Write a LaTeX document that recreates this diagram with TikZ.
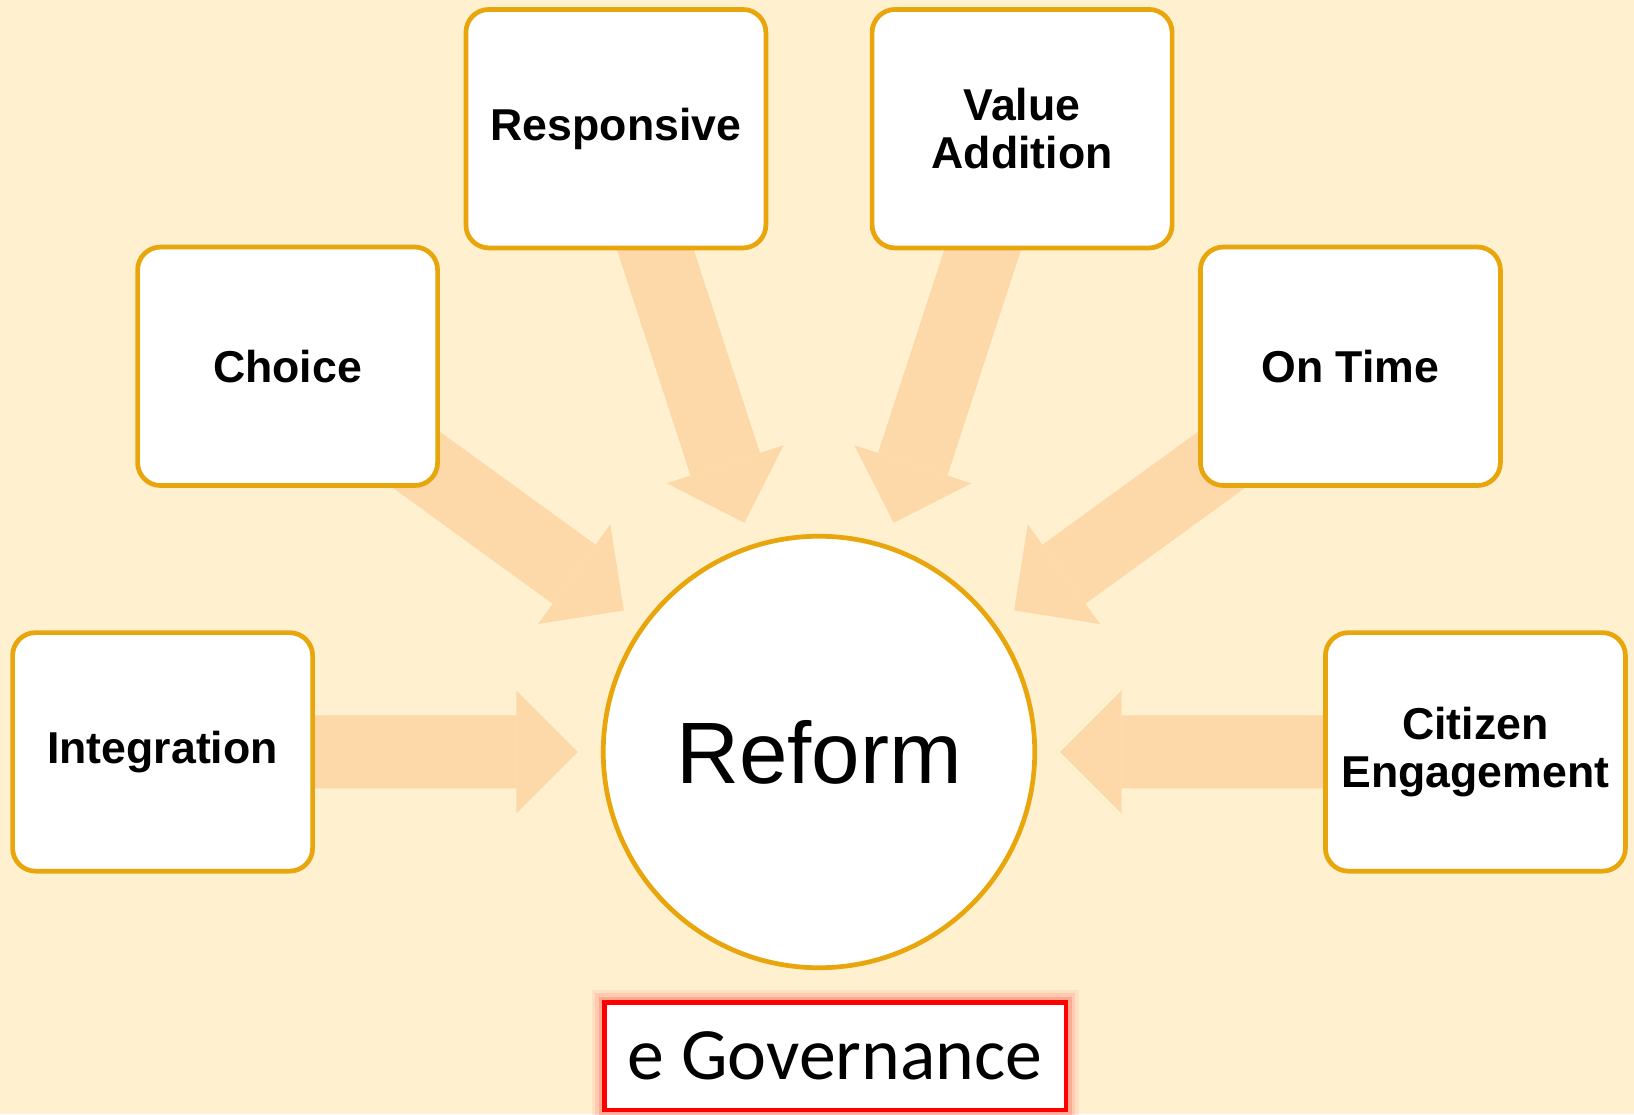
\documentclass[tikz,border=0pt]{standalone}
\usepackage{fontspec}
\setmainfont{Liberation Sans}
\newfontfamily\calibri{Carlito}
\usetikzlibrary{arrows.meta,backgrounds}

\definecolor{cream}{RGB}{255,240,207}
\definecolor{peach}{RGB}{253,216,169}
\definecolor{gold}{RGB}{232,166,12}

\tikzset{
  box/.style={draw=gold, line width=0.047cm, fill=white, rounded corners=0.23cm,
    minimum width=3.0cm, minimum height=2.385cm, align=center, inner sep=0pt,
    font=\fontsize{12.7}{13.7}\selectfont\bfseries},
  hub/.style={draw=gold, line width=0.047cm, fill=white, circle,
    minimum size=4.315cm, inner sep=0pt, font=\fontsize{24.8}{28}\selectfont},
  flow/.style={peach, line width=0.73cm, shorten >=0.23cm,
    -{Triangle[length=0.615cm, width=1.23cm, line width=0pt]}},
  govbox/.style={draw=red, line width=0.045cm, fill=white,
    minimum width=4.613cm, minimum height=1.071cm, inner sep=0pt,
    font=\calibri\fontsize{21}{24}\selectfont,
    preaction={draw=red, draw opacity=0.06, line width=0.26cm},
    preaction={draw=red, draw opacity=0.1, line width=0.19cm},
    preaction={draw=red, draw opacity=0.16, line width=0.12cm}},
}

\begin{document}
\begin{tikzpicture}
  \useasboundingbox (0,0) rectangle (16.34,11.14);

  % centre and the six boxes
  \node[hub] (reform) at (8.19,3.62) {Reform};
  \node[box] (integration) at (1.626,3.621) {Integration};
  \node[box] (choice)      at (2.876,7.477) {Choice};
  \node[box] (responsive)  at (6.159,9.853) {Responsive};
  \node[box] (valueadd)    at (10.221,9.853) {Value\\Addition};
  \node[box] (ontime)      at (13.504,7.477) {On Time};
  \node[box] (citizen)     at (14.754,3.621) {Citizen\\Engagement};

  \node[govbox] (egov) at (8.352,0.578) {e Governance};

  \begin{scope}[on background layer]
    \fill[cream] (0,0) rectangle (16.34,11.14);
    \draw[flow] (integration.center) -- (reform);
    \draw[flow] (choice.center) -- (reform);
    \draw[flow] (responsive.center) -- (reform);
    \draw[flow] (valueadd.center) -- (reform);
    \draw[flow] (ontime.center) -- (reform);
    \draw[flow] (citizen.center) -- (reform);
  \end{scope}
\end{tikzpicture}
\end{document}
